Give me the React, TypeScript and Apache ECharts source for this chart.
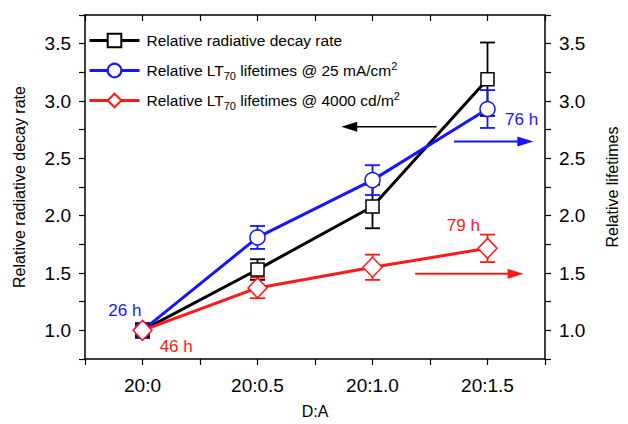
import React, { useEffect, useRef } from "react";
import * as echarts from "echarts";

const categories = ["20:0", "20:0.5", "20:1.0", "20:1.5"];
const decayRate = [1.0, 1.53, 2.08, 3.19];
const decayErr = [0.065, 0.09, 0.19, 0.32];
const lt25 = [1.0, 1.81, 2.31, 2.93];
const lt25Err = [0.065, 0.1, 0.13, 0.165];
const lt4000 = [1.0, 1.37, 1.55, 1.715];
const lt4000Err = [0.05, 0.09, 0.11, 0.12];
const yTickLabels = ["1.0", "1.5", "2.0", "2.5", "3.0", "3.5"];

const seriesNames = [
  "Relative radiative decay rate",
  "Relative LT70 lifetimes @ 25 mA/cm2",
  "Relative LT70 lifetimes @ 4000 cd/m2",
];
const richNames: Record<string, string> = {
  [seriesNames[0]]: "Relative radiative decay rate",
  [seriesNames[1]]: "Relative LT{sub|70} lifetimes @ 25 mA/cm{sup|2}",
  [seriesNames[2]]: "Relative LT{sub|70} lifetimes @ 4000 cd/m{sup|2}",
};

// annotations in data coordinates
const annotations = [
  { text: "26 h", x: -0.153, y: 1.177, color: "#1515ff" },
  { text: "46 h", x: 0.293, y: 0.861, color: "#ff1a1a" },
  { text: "76 h", x: 3.296, y: 2.838, color: "#1515ff" },
  { text: "79 h", x: 2.79, y: 1.912, color: "#ff1a1a" },
];
const arrows = [
  { x1: 2.557, x2: 1.728, y: 2.775, color: "#000", w: 1.5 },
  { x1: 2.708, x2: 3.399, y: 2.647, color: "#1515ff", w: 2 },
  { x1: 2.371, x2: 3.314, y: 1.493, color: "#ff1a1a", w: 2 },
];

const FONT = "Liberation Sans, Arial, Helvetica, sans-serif";
const BLACK = "#000";
const BLUE = "#1515ff";
const RED = "#ff1a1a";

function errData(vals: number[], errs: number[]) {
  return vals.map((v, i) => [i, v - errs[i], v + errs[i]]);
}

function errSeries(name: string, vals: number[], errs: number[], color: string) {
  return {
    name,
    type: "custom",
    z: 1,
    silent: true,
    encode: { x: 0, y: [1, 2] },
    data: errData(vals, errs),
    renderItem: (_p: any, api: any) => {
      const x = api.value(0);
      const lo = api.coord([x, api.value(1)]);
      const hi = api.coord([x, api.value(2)]);
      const hw = 7.5;
      const st = { stroke: color, lineWidth: 1.8 };
      return {
        type: "group",
        children: [
          { type: "line", shape: { x1: lo[0], y1: lo[1], x2: hi[0], y2: hi[1] }, style: st },
          { type: "line", shape: { x1: lo[0] - hw, y1: lo[1], x2: lo[0] + hw, y2: lo[1] }, style: st },
          { type: "line", shape: { x1: hi[0] - hw, y1: hi[1], x2: hi[0] + hw, y2: hi[1] }, style: st },
        ],
      };
    },
  };
}

function lineSeries(name: string, vals: number[], color: string, symbol: string, size: any) {
  return {
    name,
    type: "line",
    z: 3,
    data: vals.map((v, i) => [i, v]),
    symbol,
    symbolSize: size,
    showAllSymbol: true,
    lineStyle: { color, width: 3 },
    itemStyle: { color: "#fff", borderColor: color, borderWidth: 1.5 },
    emphasis: { disabled: true },
  };
}

const axisLineStyle = { color: "#000", width: 1.5 };

export default function App() {
  const ref = useRef<HTMLDivElement>(null);
  useEffect(() => {
    if (!ref.current) return;
    const chart = echarts.init(ref.current, undefined, { renderer: "svg" });
    const xCommon = {
      type: "value",
      min: -0.5,
      max: 3.5,
      interval: 0.5,
      splitLine: { show: false },
      axisLine: { show: true, onZero: false, lineStyle: axisLineStyle },
    };
    const yCommon = {
      type: "value",
      min: 0.75,
      max: 3.75,
      interval: 0.25,
      splitLine: { show: false },
      axisLine: { show: true, onZero: false, lineStyle: axisLineStyle },
      axisTick: { show: true, inside: false, length: 6, lineStyle: { color: "#000", width: 1.2 } },
      axisLabel: {
        fontFamily: FONT,
        fontSize: 19,
        color: "#000",
        margin: 14,
        formatter: (v: number) => {
          const idx = yTickLabels.indexOf(v.toFixed(1));
          return Math.abs(v * 2 - Math.round(v * 2)) < 1e-6 && idx >= 0 ? yTickLabels[idx] : "";
        },
      },
      nameLocation: "middle",
      nameTextStyle: { fontFamily: FONT, fontSize: 16, color: "#000" },
    };
    chart.setOption({
      animation: false,
      backgroundColor: "#fff",
      grid: { left: 85, right: 76, top: 15, bottom: 57 },
      legend: {
        data: seriesNames,
        orient: "vertical",
        left: 88,
        top: 30,
        padding: 0,
        itemWidth: 50,
        itemHeight: 17,
        itemGap: 9,
        selectedMode: false,
        lineStyle: { width: 3 },
        formatter: (n: string) => richNames[n] || n,
        textStyle: {
          fontFamily: FONT,
          fontSize: 15.5,
          color: "#000",
          lineHeight: 21,
          padding: [0, 0, 0, 2],
          rich: {
            sub: { fontFamily: FONT, fontSize: 11, lineHeight: 10, verticalAlign: "bottom", color: "#000" },
            sup: { fontFamily: FONT, fontSize: 11, lineHeight: 10, verticalAlign: "top", color: "#000" },
          },
        },
      },
      xAxis: [
        {
          ...xCommon,
          position: "bottom",
          name: "D:A",
          nameLocation: "middle",
          nameGap: 44,
          nameTextStyle: { fontFamily: FONT, fontSize: 16, color: "#000" },
          axisTick: { show: true, inside: false, length: 6, lineStyle: { color: "#000", width: 1.2 } },
          axisLabel: {
            fontFamily: FONT,
            fontSize: 19,
            color: "#000",
            margin: 17,
            formatter: (v: number) =>
              Math.abs(v - Math.round(v)) < 1e-6 && categories[Math.round(v)] ? categories[Math.round(v)] : "",
          },
        },
        {
          ...xCommon,
          position: "top",
          axisTick: { show: true, inside: true, length: 6, lineStyle: { color: "#000", width: 1.2 } },
          axisLabel: { show: false },
        },
      ],
      yAxis: [
        { ...yCommon, position: "left", name: "Relative radiative decay rate", nameGap: 58 },
        { ...yCommon, position: "right", name: "Relative lifetimes", nameGap: 59 },
      ],
      series: [
        errSeries("err0", decayRate, decayErr, BLACK),
        errSeries("err1", lt25, lt25Err, BLUE),
        errSeries("err2", lt4000, lt4000Err, RED),
        lineSeries(seriesNames[0], decayRate, BLACK, "rect", 13),
        lineSeries(seriesNames[1], lt25, BLUE, "circle", 15),
        lineSeries(seriesNames[2], lt4000, RED, "diamond", [19, 20]),
      ],
    });

    const px = (x: number, y: number) => chart.convertToPixel({ gridIndex: 0 }, [x, y]) as number[];
    const graphics: any[] = [];
    annotations.forEach((a) => {
      const p = px(a.x, a.y);
      graphics.push({
        type: "text",
        x: p[0],
        y: p[1],
        z: 10,
        style: {
          text: a.text,
          fill: a.color,
          font: `17px ${FONT}`,
          align: "center",
          verticalAlign: "middle",
        },
      });
    });
    arrows.forEach((a) => {
      const p1 = px(a.x1, a.y);
      const p2 = px(a.x2, a.y);
      const dir = p2[0] > p1[0] ? 1 : -1;
      const len = 16;
      const hw = 5;
      graphics.push({
        type: "line",
        z: 10,
        shape: { x1: p1[0], y1: p1[1], x2: p2[0] - dir * (len - 2), y2: p2[1] },
        style: { stroke: a.color, lineWidth: a.w },
      });
      graphics.push({
        type: "polygon",
        z: 10,
        shape: {
          points: [
            [p2[0], p2[1]],
            [p2[0] - dir * len, p2[1] - hw],
            [p2[0] - dir * len, p2[1] + hw],
          ],
        },
        style: { fill: a.color },
      });
    });
    chart.setOption({ graphic: graphics });

    return () => chart.dispose();
  }, []);
  return (
    <div
      ref={ref}
      style={{ position: "fixed", left: 0, top: 0, width: 628, height: 424, background: "#fff" }}
    />
  );
}
